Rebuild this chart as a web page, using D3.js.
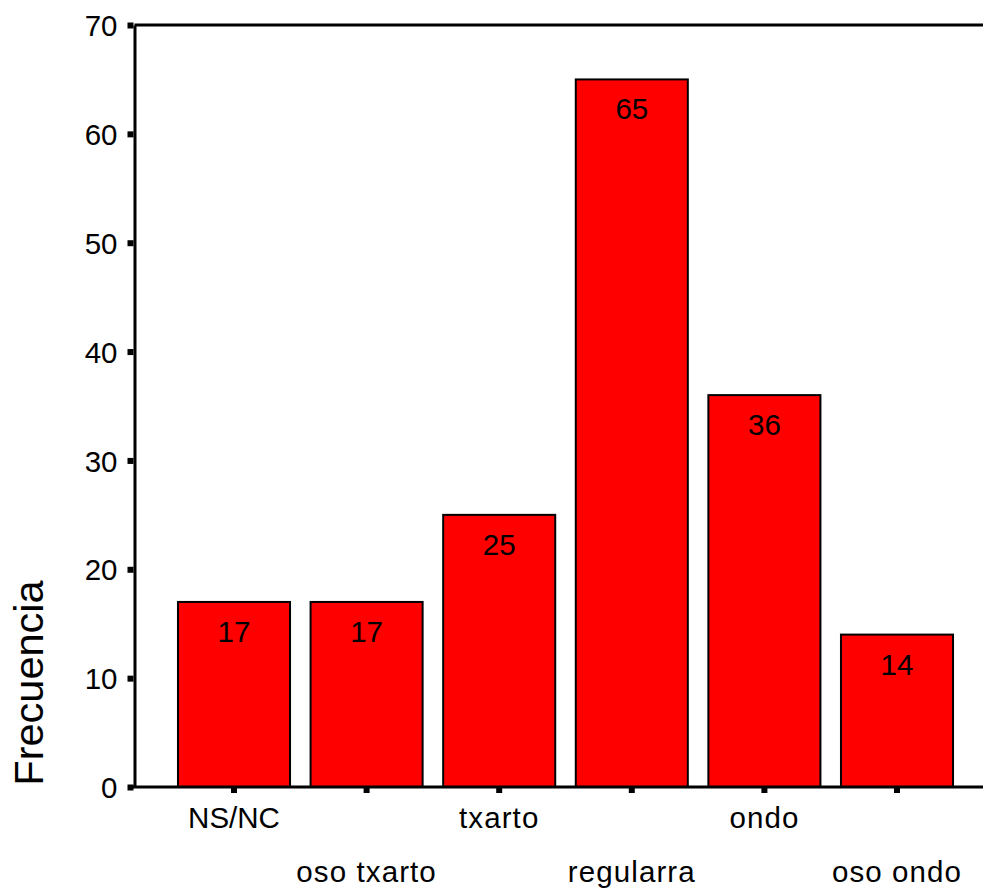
<!DOCTYPE html>
<html><head><meta charset="utf-8">
<script src="https://cdn.jsdelivr.net/npm/d3@7"></script>
<style>body{margin:0;background:#fff}svg{display:block}text{font-family:"Liberation Sans",Arial,sans-serif;fill:#000}</style>
</head><body>
<script>
const categories = ["NS/NC","oso txarto","txarto","regularra","ondo","oso ondo"];
const values = [17,17,25,65,36,14];
const yTicks = [0,10,20,30,40,50,60,70];

const W=983,H=890;
const FS=29.5;
const svg=d3.select("body").append("svg").attr("width",W).attr("height",H);
const x=d3.scaleBand().domain(categories).range([167.7,963.3]).paddingInner(0.155).paddingOuter(0.0775);
const y=d3.scaleLinear().domain([0,70]).range([787,25]);
const axisX=134.5;

// frame top line
svg.append("line").attr("x1",axisX).attr("x2",W).attr("y1",y(70)).attr("y2",y(70)).attr("stroke","#000").attr("stroke-width",3);

// bars
svg.selectAll("rect.bar").data(values).enter().append("rect")
 .attr("x",(d,i)=>x(categories[i])).attr("width",x.bandwidth())
 .attr("y",d=>y(d)).attr("height",d=>y(0)-y(d))
 .attr("fill","#ff0000").attr("stroke","#000").attr("stroke-width",2);

svg.selectAll("text.val").data(values).enter().append("text")
 .attr("x",(d,i)=>x(categories[i])+x.bandwidth()/2).attr("y",d=>y(d)+40)
 .attr("text-anchor","middle").attr("font-size",FS).text(d=>d);

// y axis
const ya=svg.append("g").attr("transform",`translate(${axisX},0)`)
 .call(d3.axisLeft(y).tickValues(yTicks).tickSize(0).tickPadding(17));
ya.select(".domain").attr("stroke","#000").attr("stroke-width",3);
ya.selectAll("text").attr("font-size",FS).attr("font-family","Liberation Sans, Arial, sans-serif").attr("fill","#000").attr("dy","0.36em");
ya.selectAll(".tick").append("rect").attr("x",-7).attr("y",-3).attr("width",6).attr("height",6).attr("fill","#000");

// x axis
const xa=svg.append("g").attr("transform",`translate(0,${y(0)})`)
 .call(d3.axisBottom(x).tickSize(0).tickPadding(0));
xa.select(".domain").remove();
svg.append("line").attr("x1",axisX-1.5).attr("x2",W).attr("y1",y(0)).attr("y2",y(0)).attr("stroke","#000").attr("stroke-width",3);
xa.selectAll(".tick").append("rect").attr("x",-3).attr("y",0).attr("width",6).attr("height",6).attr("fill","#000");
xa.selectAll(".tick text").attr("font-size",FS).attr("font-family","Liberation Sans, Arial, sans-serif").attr("fill","#000")
 .attr("letter-spacing",d=>/[a-z]/.test(d)?1.1:0)
 .attr("dy",null).attr("y",(d,i)=>i%2===0?41:95);

// y label
svg.append("text").attr("transform","translate(43,683) rotate(-90)").attr("text-anchor","middle")
 .attr("font-size",41.5).text("Frecuencia");
</script>
</body></html>
